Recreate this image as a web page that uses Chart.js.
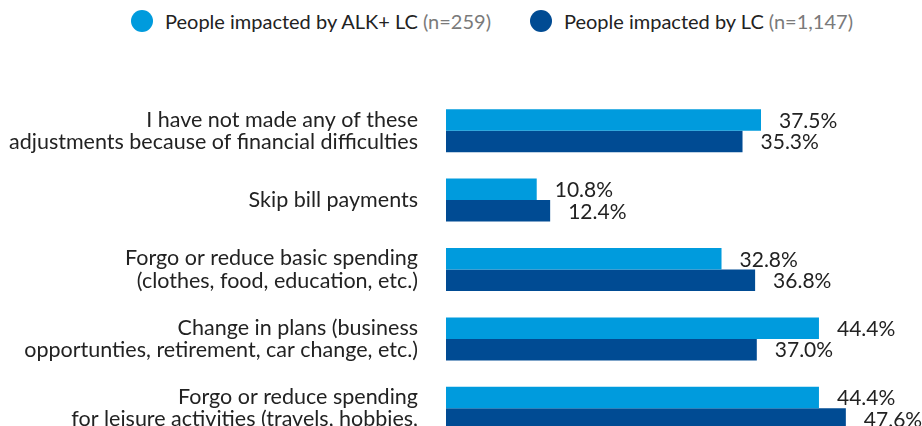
<!DOCTYPE html>
<html><head><meta charset="utf-8">
<script src="https://cdn.jsdelivr.net/npm/chart.js@4/dist/chart.umd.min.js"></script>
<style>
html,body{margin:0;padding:0;background:#fff;overflow:hidden;width:922px;height:426px;}
#legend{position:absolute;left:131px;top:9px;display:flex;font-family:Lato,sans-serif;font-size:20px;color:#222;white-space:nowrap;line-height:24px;}
.item{display:flex;align-items:center;}
.item + .item{margin-left:39px;}
.dot{width:22px;height:22px;border-radius:50%;margin-right:12px;}
.n{color:#7a7a7a;margin-left:5px;}
#wrap{position:absolute;left:0;top:0;width:922px;height:460px;}
</style></head>
<body>
<div id="legend"></div>
<div id="wrap"><canvas id="c"></canvas></div>
<script>
const categories = [
  ["I have not made any of these", "adjustments because of financial difficulties"],
  ["Skip bill payments"],
  ["Forgo or reduce basic spending", "(clothes, food, education, etc.)"],
  ["Change in plans (business", "opportunties, retirement, car change, etc.)"],
  ["Forgo or reduce spending", "for leisure activities (travels, hobbies,", "etc.)"]
];
const seriesNames = ["People impacted by ALK+ LC", "People impacted by LC"];
const seriesN = ["(n=259)", "(n=1,147)"];
const alkValues = [37.5, 10.8, 32.8, 44.4, 44.4];
const lcValues = [35.3, 12.4, 36.8, 37.0, 47.6];
const colors = ["#009BDD", "#004B93"];

// HTML legend (mixed text colours)
const legend = document.getElementById('legend');
seriesNames.forEach((name, i) => {
  const it = document.createElement('div'); it.className = 'item';
  const d = document.createElement('span'); d.className = 'dot'; d.style.background = colors[i];
  const t = document.createElement('span'); t.textContent = name;
  const n = document.createElement('span'); n.className = 'n'; n.textContent = seriesN[i];
  it.appendChild(d); it.appendChild(t); it.appendChild(n); legend.appendChild(it);
});

const valueLabels = {
  id: 'valueLabels',
  afterDatasetsDraw(chart) {
    const ctx = chart.ctx;
    ctx.save();
    ctx.font = '21px Lato';
    ctx.fillStyle = '#222';
    ctx.textAlign = 'left';
    ctx.textBaseline = 'middle';
    chart.data.datasets.forEach((ds, di) => {
      chart.getDatasetMeta(di).data.forEach((el, i) => {
        ctx.fillText(ds.data[i].toFixed(1) + '%', el.x + 18, el.y + 1);
      });
    });
    ctx.restore();
  }
};

new Chart(document.getElementById('c'), {
  type: 'bar',
  data: {
    labels: categories,
    datasets: [
      { label: seriesNames[0], data: alkValues, backgroundColor: colors[0], barPercentage: 1, categoryPercentage: 0.62 },
      { label: seriesNames[1], data: lcValues, backgroundColor: colors[1], barPercentage: 1, categoryPercentage: 0.62 }
    ]
  },
  options: {
    indexAxis: 'y',
    responsive: true,
    maintainAspectRatio: false,
    animation: false,
    layout: { padding: { top: 96, bottom: 17, left: 0, right: 14 } },
    plugins: { legend: { display: false }, tooltip: { enabled: false } },
    scales: {
      x: { display: false, min: 0, max: 55 },
      y: {
        grid: { display: false, drawTicks: false },
        border: { display: false },
        ticks: {
          autoSkip: false, color: '#222',
          font: { family: 'Lato', size: 21.5, lineHeight: 1.03 },
          padding: 28, crossAlign: 'near',
          // three-line label sits top-anchored in the original: pad with a blank leading line
          callback(v, i) { const l = categories[i]; return l.length > 2 ? [''].concat(l) : l; }
        },
        afterFit(scale) { scale.width = 446; scale.paddingTop = 0; scale.paddingBottom = 0; }
      }
    }
  },
  plugins: [valueLabels]
});
</script>
</body></html>
